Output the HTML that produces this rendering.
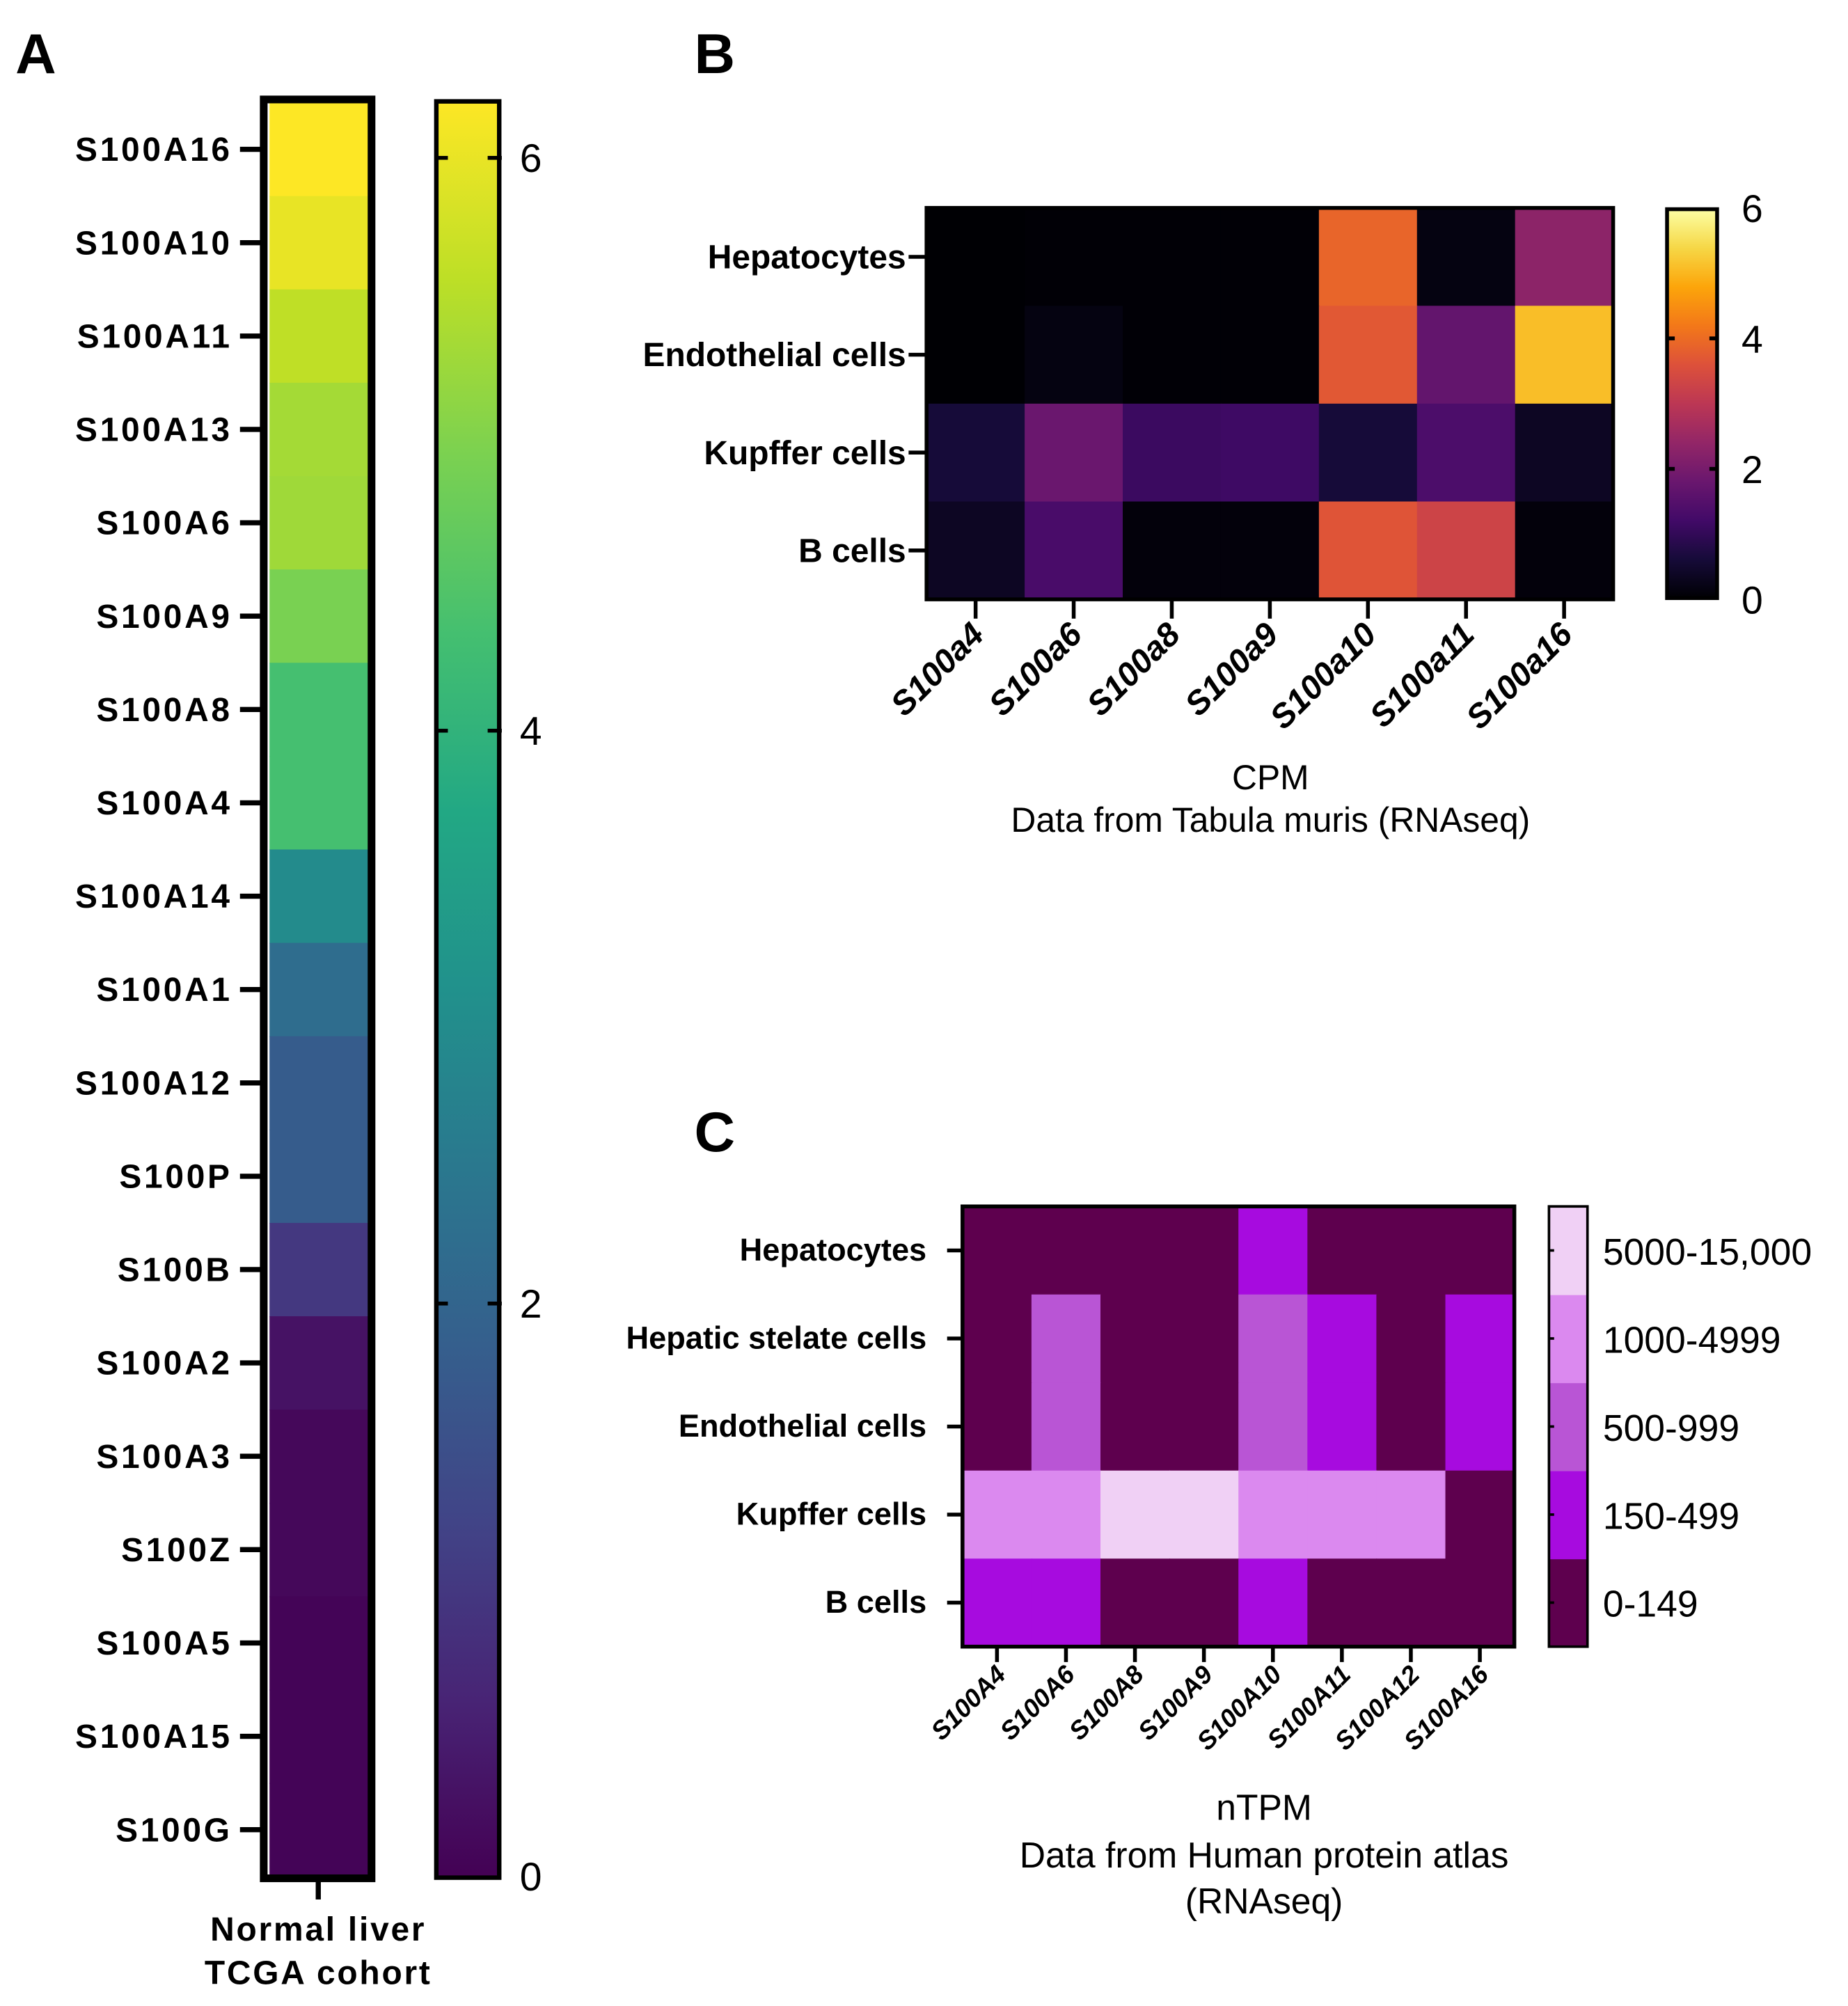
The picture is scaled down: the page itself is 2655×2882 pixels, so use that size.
<!DOCTYPE html>
<html><head><meta charset="utf-8"><style>
html,body{margin:0;padding:0;background:#fff;width:2655px;height:2882px;overflow:hidden}
svg{display:block}
.bl{font-family:"Liberation Sans",Arial,sans-serif;font-weight:bold}
.nb{font-family:"Liberation Sans Narrow","Liberation Sans",Arial,sans-serif;font-weight:bold}
.nr{font-family:"Liberation Sans Narrow","Liberation Sans",Arial,sans-serif}
.rg{font-family:"Liberation Sans",Arial,sans-serif}
</style></head><body>
<svg id="fig" width="2655" height="2882" viewBox="0 0 1440 1563" preserveAspectRatio="none" xmlns="http://www.w3.org/2000/svg">
<defs>
<linearGradient id="virGrad" x1="0" y1="1" x2="0" y2="0"></linearGradient>
<linearGradient id="infGrad" x1="0" y1="1" x2="0" y2="0"></linearGradient>
</defs>
<g id="pA"></g>
<g id="pB"></g>
<g id="pC"></g>
</svg>
<script>
// ---- Panel A data ----
const aGenes = ["S100A16","S100A10","S100A11","S100A13","S100A6","S100A9","S100A8","S100A4","S100A14","S100A1","S100A12","S100P","S100B","S100A2","S100A3","S100Z","S100A5","S100A15","S100G"];
const aValues = [6.2,6.0,5.6,5.35,5.3,4.95,4.35,4.35,2.95,2.2,1.8,1.8,1.0,0.3,0.12,0.12,0.05,0.05,0.05];
const aTicks = [0,2,4,6];
// ---- Panel B data ----
const bCells = ["Hepatocytes","Endothelial cells","Kupffer cells","B cells"];
const bGenes = ["S100a4","S100a6","S100a8","S100a9","S100a10","S100a11","S100a16"];
const bValues = [
 [0.0,0.02,0.02,0.02,3.9,0.15,2.3],
 [0.0,0.15,0.02,0.02,3.7,1.7,5.1],
 [0.6,1.8,1.1,1.15,0.6,1.35,0.35],
 [0.35,1.3,0.08,0.08,3.65,3.3,0.08]
];
const bTicks = [0,2,4,6];
// ---- Panel C data ----
const cCells = ["Hepatocytes","Hepatic stelate cells","Endothelial cells","Kupffer cells","B cells"];
const cGenes = ["S100A4","S100A6","S100A8","S100A9","S100A10","S100A11","S100A12","S100A16"];
const cLevels = ["0-149","150-499","500-999","1000-4999","5000-15,000"];
const cValues = [
 [0,0,0,0,1,0,0,0],
 [0,2,0,0,2,1,0,1],
 [0,2,0,0,2,1,0,1],
 [3,3,4,4,3,3,3,0],
 [1,1,0,0,1,0,0,0]
];

const NS="http://www.w3.org/2000/svg";
function mk(tag,attrs,parent,text){const e=document.createElementNS(NS,tag);for(const k in attrs)e.setAttribute(k,attrs[k]);if(text!==undefined)e.textContent=text;parent.appendChild(e);return e;}
function interp(stops,t){t=Math.max(0,Math.min(1,t));const n=stops.length-1;const i=Math.min(n-1,Math.floor(t*n));const f=t*n-i;const a=stops[i],b=stops[i+1];
 const h=s=>[parseInt(s.substr(1,2),16),parseInt(s.substr(3,2),16),parseInt(s.substr(5,2),16)];
 const A=h(a),B=h(b);return "rgb("+A.map((v,j)=>Math.round(v+(B[j]-v)*f)).join(",")+")";}
const VIR=["#440154","#482475","#414487","#355f8d","#2a788e","#21918c","#22a884","#44bf70","#7ad151","#bddf26","#fde725"];
const INF=["#000004","#160b39","#420a68","#6a176e","#932667","#bc3754","#dd513a","#f37819","#fca50a","#f6d746","#fcffa4"];
function fillGrad(id,stops){const g=document.getElementById(id);stops.forEach((c,i)=>mk("stop",{offset:(i/(stops.length-1)),"stop-color":c},g));}
fillGrad("virGrad",VIR);fillGrad("infGrad",INF);

// ===== Panel A =====
(function(){
 const g=document.getElementById("pA");
 const t=mk("text",{x:12,y:57,"font-size":44,class:"bl"},g,"A");
 
 
 const x0=210,x1=287,y0=80,y1=1462,vmax=6.2;
 const rh=(y1-y0)/aGenes.length;
 aGenes.forEach((gn,i)=>{
  const r=mk("rect",{x:x0,y:y0+i*rh,width:x1-x0,height:rh+0.6,fill:interp(VIR,aValues[i]/vmax)},g);
  
  
  const cy=y0+(i+0.5)*rh;
  mk("line",{x1:187,x2:205,y1:cy,y2:cy,stroke:"#000","stroke-width":4},g);
  const l=mk("text",{x:181,y:cy+9,"font-size":26,"letter-spacing":2,"text-anchor":"end",class:"bl"},g,gn);
  
  
 });
 const b=mk("rect",{x:205.5,y:77.5,width:84,height:1386,fill:"none",stroke:"#000","stroke-width":6},g);
 
 
 mk("line",{x1:248,x2:248,y1:1465,y2:1480,stroke:"#000","stroke-width":4},g);
 const x1l=mk("text",{x:248,y:1512,"font-size":26,"letter-spacing":1.5,"text-anchor":"middle",class:"bl"},g,"Normal liver");
 
 
 const x2l=mk("text",{x:248,y:1546,"font-size":26,"letter-spacing":1.5,"text-anchor":"middle",class:"bl"},g,"TCGA cohort");
 
 
 // colorbar
 const cb=mk("rect",{x:340,y:79,width:49,height:1384,fill:"url(#virGrad)",stroke:"#000","stroke-width":3.5},g);
 
 
 const cy0=1462,cy6=123;
 aTicks.forEach(v=>{
  const y=cy0+(cy6-cy0)*v/6;
  if(v>0){mk("line",{x1:341,x2:349,y1:y,y2:y,stroke:"#000","stroke-width":3},g);mk("line",{x1:380,x2:391,y1:y,y2:y,stroke:"#000","stroke-width":3},g);}
  const tl=mk("text",{x:405,y:y+11,"font-size":31,class:"rg"},g,String(v));
  
  
 });
})();

// ===== Panel B =====
(function(){
 const g=document.getElementById("pB");
 const t=mk("text",{x:541,y:57,"font-size":44,class:"bl"},g,"B");
 
 
 const x0=722,x1=1257,y0=162,y1=467,vmax=6;
 const cw=(x1-x0)/bGenes.length,rh=(y1-y0)/bCells.length;
 bCells.forEach((c,i)=>{
  bGenes.forEach((gn,j)=>{
   const r=mk("rect",{x:x0+j*cw,y:y0+i*rh,width:cw+0.5,height:rh+0.5,fill:interp(INF,bValues[i][j]/vmax)},g);
   
   
  });
  const cy=y0+(i+0.5)*rh;
  mk("line",{x1:708,x2:722,y1:cy,y2:cy,stroke:"#000","stroke-width":3},g);
  const l=mk("text",{x:706,y:cy+9,"font-size":26,"text-anchor":"end",class:"nb"},g,c);
  
  
 });
 mk("rect",{x:x0,y:y0,width:x1-x0,height:y1-y0,fill:"none",stroke:"#000","stroke-width":3},g);
 bGenes.forEach((gn,j)=>{
  const cx=x0+(j+0.5)*cw;
  mk("line",{x1:cx,x2:cx,y1:y1,y2:y1+15,stroke:"#000","stroke-width":3},g);
  const l=mk("text",{x:cx+8,y:496,"font-size":26,"text-anchor":"end",class:"nb","font-style":"italic",transform:"rotate(-45 "+(cx+8)+" 496)"},g,gn);
  
  
 });
 const cb=mk("rect",{x:1299,y:163,width:39,height:303,fill:"url(#infGrad)",stroke:"#000","stroke-width":3},g);
 
 
 bTicks.forEach(v=>{
  const y=467-(467-162)*v/6;
  if(v>0&&v<6){mk("line",{x1:1300,x2:1305,y1:y,y2:y,stroke:"#000","stroke-width":3},g);mk("line",{x1:1332,x2:1339,y1:y,y2:y,stroke:"#000","stroke-width":3},g);}
  const tl=mk("text",{x:1357,y:y+11,"font-size":30,class:"nr"},g,String(v));
  
  
 });
 const a1=mk("text",{x:990,y:615,"font-size":27,"text-anchor":"middle",class:"nr"},g,"CPM");
 
 
 const a2=mk("text",{x:990,y:648,"font-size":27,"text-anchor":"middle",class:"nr"},g,"Data from Tabula muris (RNAseq)");
 
 
})();

// ===== Panel C =====
(function(){
 const g=document.getElementById("pC");
 const t=mk("text",{x:541,y:897,"font-size":44,class:"bl"},g,"C");
 
 
 const COLS=["#5e004e","#a70bdf","#b955d5","#db89ef","#f0d0f5"];
 const x0=750,x1=1180,y0=940,y1=1283;
 const cw=(x1-x0)/cGenes.length,rh=(y1-y0)/cCells.length;
 cCells.forEach((c,i)=>{
  cGenes.forEach((gn,j)=>{
   const r=mk("rect",{x:x0+j*cw,y:y0+i*rh,width:cw+0.5,height:rh+0.5,fill:COLS[cValues[i][j]]},g);
   
   
  });
  const cy=y0+(i+0.5)*rh;
  mk("line",{x1:738,x2:750,y1:cy,y2:cy,stroke:"#000","stroke-width":3},g);
  const l=mk("text",{x:722,y:cy+8,"font-size":24.5,"text-anchor":"end",class:"nb"},g,c);
  
  
 });
 mk("rect",{x:x0,y:y0,width:x1-x0,height:y1-y0,fill:"none",stroke:"#000","stroke-width":3},g);
 cGenes.forEach((gn,j)=>{
  const cx=x0+(j+0.5)*cw;
  mk("line",{x1:cx,x2:cx,y1:y1,y2:y1+12,stroke:"#000","stroke-width":3},g);
  const l=mk("text",{x:cx+8,y:1306,"font-size":20,"text-anchor":"end",class:"nb","font-style":"italic",transform:"rotate(-45 "+(cx+8)+" 1306)"},g,gn);
  
  
 });
 const by0=940,by1=1283,bh=(by1-by0)/cLevels.length;
 cLevels.forEach((lv,k)=>{
  const y=by1-(k+1)*bh;
  const r=mk("rect",{x:1207,y:y,width:30,height:bh+0.5,fill:COLS[k]},g);
  
  
  mk("line",{x1:1207,x2:1211,y1:y+bh/2,y2:y+bh/2,stroke:"#000","stroke-width":2},g);
  const tl=mk("text",{x:1249,y:y+bh/2+11,"font-size":29,class:"nr"},g,lv);
  
  
 });
 mk("rect",{x:1207,y:940,width:30,height:343,fill:"none",stroke:"#000","stroke-width":2},g);
 const a1=mk("text",{x:985,y:1418,"font-size":28,"text-anchor":"middle",class:"nr"},g,"nTPM");
 
 
 const a2=mk("text",{x:985,y:1455,"font-size":28,"text-anchor":"middle",class:"nr"},g,"Data from Human protein atlas");
 
 
 const a3=mk("text",{x:985,y:1491,"font-size":28,"text-anchor":"middle",class:"nr"},g,"(RNAseq)");
 
 
})();
</script>
</body></html>
